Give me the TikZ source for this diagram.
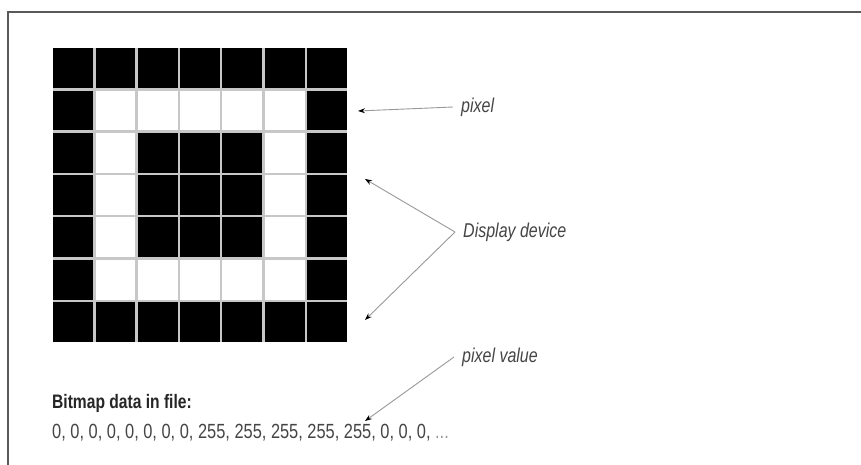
\documentclass[tikz,border=0pt]{standalone}
\usepackage{fontspec}
\setmainfont[FakeStretch=0.8]{Liberation Sans}
\usepackage{tikz}
\usetikzlibrary{arrows.meta}
\usetikzlibrary{positioning}
\tikzset{pix/.style = {rectangle, inner sep = 0, minimum size = 39.8pt}}
\tikzset{lbl/.style = {anchor = west, inner xsep = 8pt, inner ysep = 0, text = mgrey, font = \fontsize{20}{24}\selectfont\itshape}}
\tikzset{ptr/.style = {draw = black!40, line width = 0.9pt, -{Stealth[length = 7pt, width = 5pt, color = black]}}}
\definecolor{mgrey}{rgb}{0.27, 0.27, 0.27}

\begin{document}
\begin{tikzpicture}[x = 1pt, y = -1pt]
          \useasboundingbox (0, 0) rectangle (861, 465);
          \fill [white] (0, 0) rectangle (861, 465);
          \draw [black!65, line width = 1.5pt] (861, 12) -- (8, 12) -- (8, 465);

          % display device
          \fill [black!22] (53.2, 48.2) rectangle (346.9, 341.9);
          \foreach \r in {1, ..., 7}
            \foreach \c in {1, ..., 7} {
              \pgfmathtruncatemacro{\on}{(\r == 1 || \r == 7 || \c == 1 || \c == 7 || (\r > 2 && \r < 6 && \c > 2 && \c < 6)) ? 1 : 0}
              \def\shade{white}
              \ifnum\on = 1 \def\shade{black}\fi
              \node [pix, fill = \shade] (p\r\c) at (30.85 + 42.3 * \c, 25.85 + 42.3 * \r) {};
            }

          \node [lbl] (pixlbl) at (453, 107) {pixel};
          \node [lbl] (devlbl) at (455, 232) {Display device};
          \node [lbl] (vallbl) at (454, 357) {pixel value};

          \node [anchor = west, inner sep = 0, text = black!85, font = \fontsize{19.5}{23}\selectfont\bfseries] (head) at (52, 403) {Bitmap data in file:};
          \node [anchor = west, inner sep = 0, text = mgrey, font = \fontsize{20.5}{24}\selectfont] (data) at (52, 433) {0, 0, 0, 0, 0, 0, 0, 0, 255, 255, 255, 255, 255, 0, 0, 0, \textcolor{black!40}{...}};

          \coordinate (pixtip) at (358, 111);
          \coordinate (devtop) at (365, 179);
          \coordinate (devbot) at (365, 320);
          \coordinate (valtip) at (365, 421);

          \draw [ptr] (pixlbl.west) -- (pixtip);
          \draw [ptr] (devlbl.west) -- (devtop);
          \draw [ptr] (devlbl.west) -- (devbot);
          \draw [ptr] (vallbl.west) -- (valtip);
        \end{tikzpicture}
\end{document}
